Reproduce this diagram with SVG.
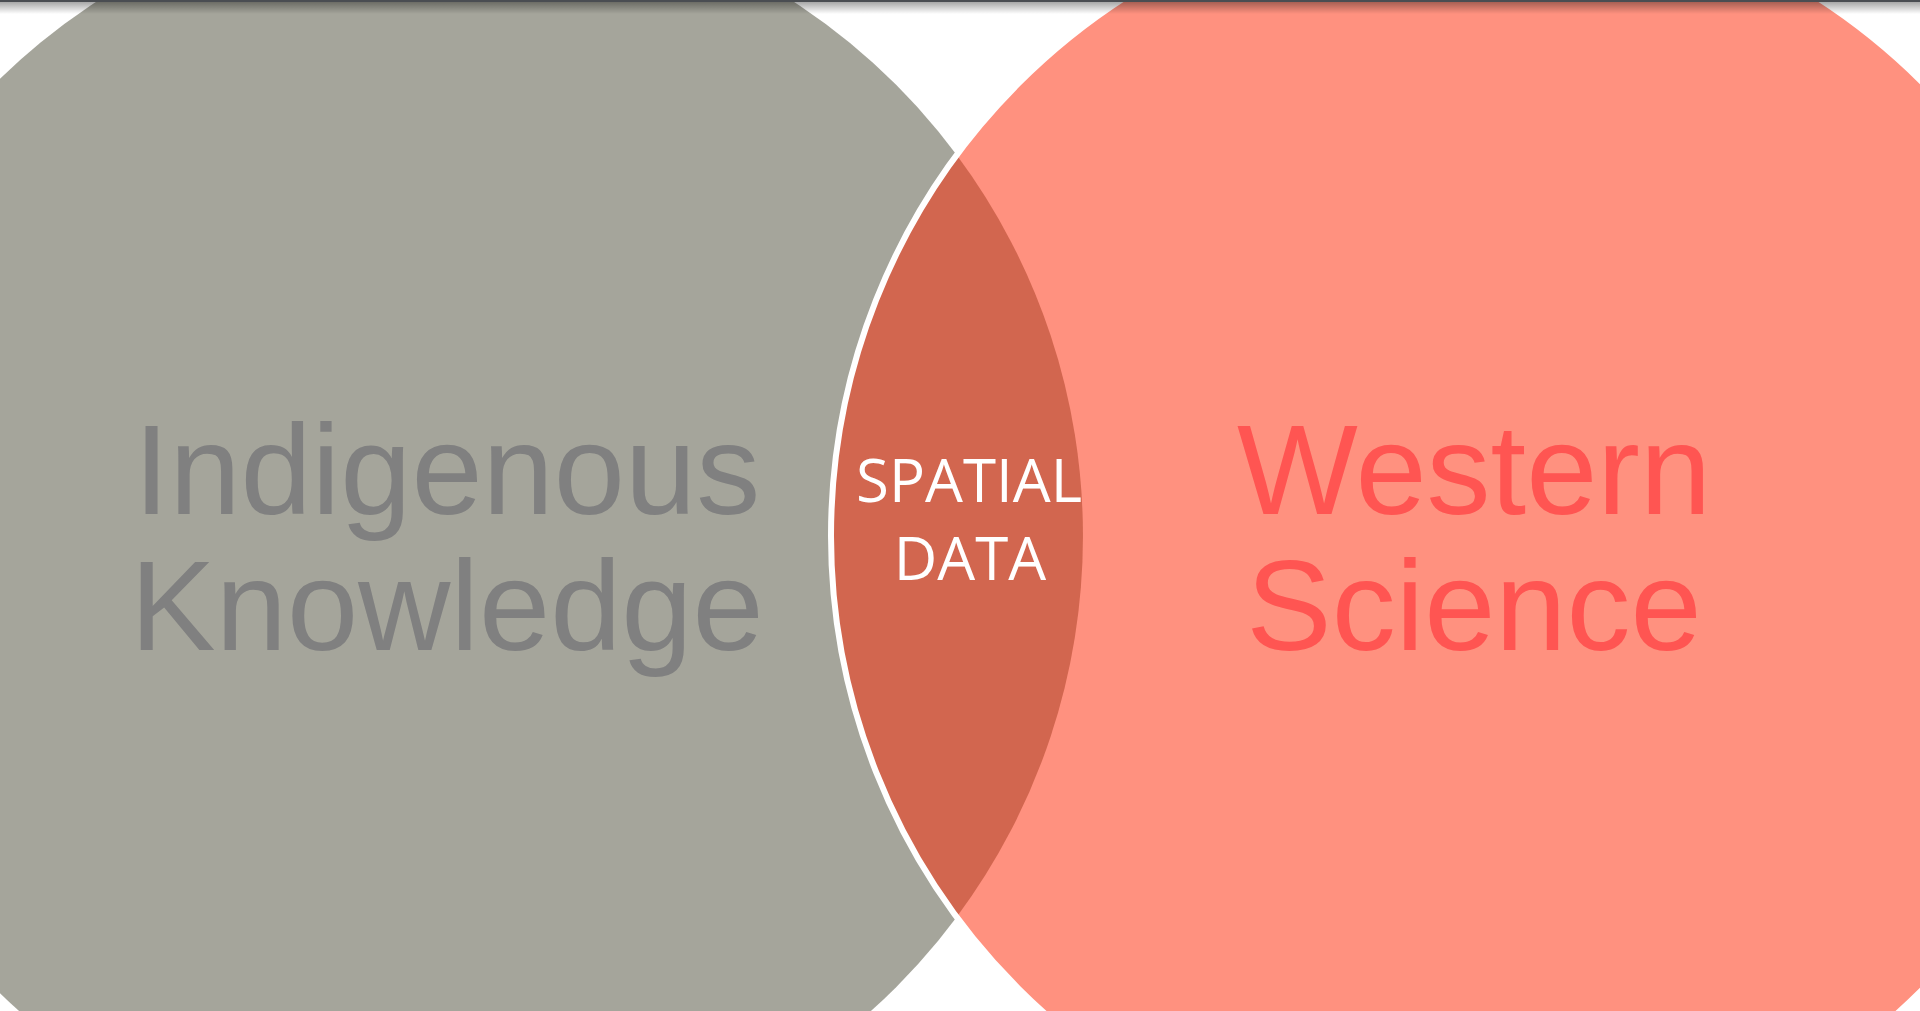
<svg xmlns="http://www.w3.org/2000/svg" width="1920" height="1011" viewBox="0 0 1920 1011">
<defs>
<style>
.big{font-family:"Liberation Sans",Arial,sans-serif;font-size:128px;text-anchor:middle}
.small{font-family:"Open Sans","Noto Sans",sans-serif;font-size:60px;fill:#FFFFFF;text-anchor:middle}
</style>
<linearGradient id="shadow" x1="0" y1="0" x2="0" y2="1">
<stop offset="0" stop-color="#000" stop-opacity="0.4"/>
<stop offset="1" stop-color="#000" stop-opacity="0"/>
</linearGradient>
</defs>
<rect width="1920" height="1011" fill="#FFFFFF"/>
<g id="indigenous">
<circle cx="445" cy="536" r="638" fill="#A5A59B"/>
</g>
<g id="western">
<circle cx="1471" cy="536" r="640" fill="#FF917F"/>
</g>
<g id="spatial">
<path d="M956.7,155 A638,638 0 0 1 956.7,917 A640,640 0 0 1 956.7,155 Z" fill="#D2664F"/>
<circle cx="1471" cy="536" r="640" fill="none" stroke="#FFFFFF" stroke-width="6"/>
</g>
<g id="labels">
<text class="big" x="447" y="514" fill="#808080">Indigenous</text>
<text class="big" x="447" y="650" fill="#808080">Knowledge</text>
<text class="big" x="1474" y="514" fill="#FF5552">Western</text>
<text class="big" x="1474" y="650" fill="#FF5552">Science</text>
<text class="small" x="969" y="502">SPATIAL</text>
<text class="small" x="970" y="580">DATA</text>
</g>
<g id="connectors"></g>
<rect x="0" y="0" width="1920" height="14" fill="url(#shadow)"/>
<rect x="0" y="0" width="1920" height="2" fill="#4A4D52"/>
</svg>
